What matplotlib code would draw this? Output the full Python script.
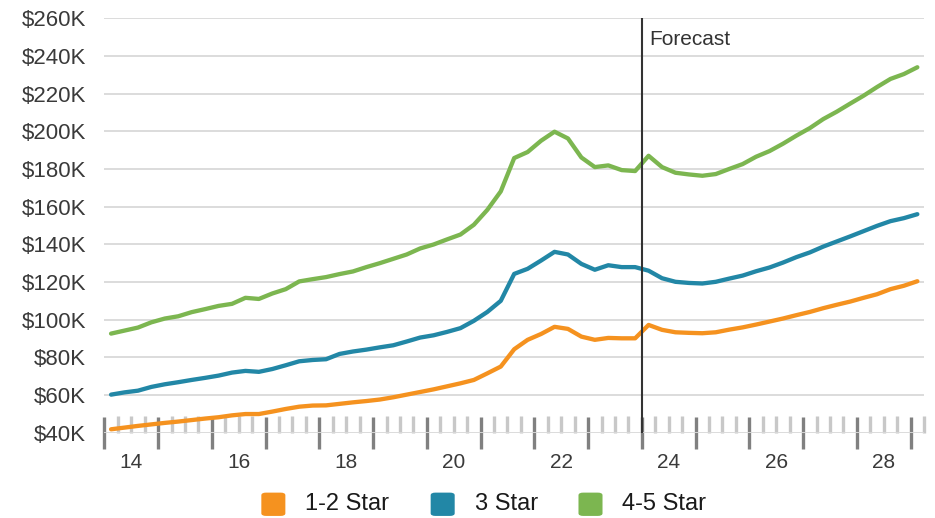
import matplotlib
matplotlib.use("Agg")
import matplotlib.pyplot as plt
from matplotlib.patches import FancyBboxPatch
from matplotlib.ticker import FixedLocator, FuncFormatter
import numpy as np
import pandas as pd

# quarterly median values, $K, 2014Q1 .. 2029Q1
quarters = pd.period_range("2014Q1", "2029Q1", freq="Q")

star_1_2 = [41.8, 42.7, 43.6, 44.4, 45.2, 45.9, 46.7, 47.5, 48.2, 49.2, 49.9, 49.9, 51.2, 52.6, 53.8, 54.4,
            54.5, 55.3, 56.1, 56.8, 57.6, 58.8, 60.2, 61.6, 63.0, 64.6, 66.2, 68.0, 71.5, 75.1, 84.3, 89.3,
            92.4, 96.2, 95.1, 91.0, 89.3, 90.3, 90.1, 90.1, 97.2, 94.6, 93.3, 93.0, 92.8, 93.3, 94.7, 95.9,
            97.4, 99.0, 100.6, 102.4, 104.1, 106.1, 107.9, 109.6, 111.6, 113.5, 116.2, 118.0, 120.4]
star_3 = [60.2, 61.4, 62.3, 64.3, 65.7, 66.8, 68.0, 69.1, 70.3, 71.9, 72.8, 72.3, 73.8, 75.8, 77.9, 78.6,
          79.0, 81.8, 83.1, 84.1, 85.3, 86.4, 88.4, 90.5, 91.7, 93.5, 95.5, 99.4, 104.1, 110.0, 124.3, 127.0,
          131.4, 136.0, 134.6, 129.6, 126.5, 128.9, 127.9, 127.9, 126.0, 122.0, 120.1, 119.5, 119.2, 120.1,
          121.8, 123.4, 125.7, 127.7, 130.3, 133.2, 135.7, 138.8, 141.5, 144.2, 147.0, 149.8, 152.3, 153.9, 156.0]
star_4_5 = [92.6, 94.2, 95.8, 98.6, 100.6, 101.8, 104.0, 105.6, 107.3, 108.4, 111.6, 111.0, 113.9, 116.2,
            120.3, 121.5, 122.6, 124.2, 125.6, 127.9, 130.0, 132.3, 134.6, 137.8, 139.9, 142.6, 145.2, 150.4,
            158.3, 168.1, 185.8, 189.0, 195.0, 199.8, 196.2, 186.1, 181.0, 181.9, 179.4, 178.9, 187.0, 181.0,
            178.0, 177.1, 176.4, 177.3, 180.0, 182.6, 186.5, 189.5, 193.4, 197.7, 201.7, 206.5, 210.4, 214.7,
            218.9, 223.5, 227.8, 230.4, 234.0]

series_names = ["1-2 Star", "3 Star", "4-5 Star"]
series_colors = ["#f5921f", "#2287a6", "#7cb650"]
forecast_start = 2024
year_labels = [2014, 2016, 2018, 2020, 2022, 2024, 2026, 2028]

plt.rcParams["font.family"] = ["Liberation Sans", "DejaVu Sans"]

# place each quarter at its midpoint, in decimal years
x = np.array([q.year + (q.quarter - 1) / 4 + 0.125 for q in quarters])

fig = plt.figure(figsize=(9.35, 5.18), dpi=100)
ax = fig.add_axes([0.1116, 0.1647, 0.8767, 0.80])

for vals, name, col in zip([star_1_2, star_3, star_4_5], series_names, series_colors):
    ax.plot(x, vals, color=col, lw=3.1, solid_joinstyle="round", solid_capstyle="round", label=name, zorder=3)

ax.set_xlim(2014, 2029.25)
ax.set_ylim(40, 260)

ax.set_yticks(np.arange(40, 261, 20))
ax.yaxis.set_major_formatter(FuncFormatter(lambda v, p: "$%dK" % v))
ax.grid(axis="y", color="#d9d9d9", lw=1.3, zorder=0)
ax.tick_params(axis="y", length=0, pad=13, labelsize=16, labelcolor="#3a3a3a")

# year boundaries dark, quarters light
ax.xaxis.set_major_locator(FixedLocator(np.arange(2014, 2030)))
ax.xaxis.set_minor_locator(FixedLocator(np.arange(2014, 2029.3, 0.25)))
ax.tick_params(axis="x", which="major", direction="inout", length=23, width=2.4, color="#808080",
               labelbottom=False)
ax.tick_params(axis="x", which="minor", direction="in", length=12, width=2.4, color="#c8c8c8")

for y in year_labels:
    ax.text(y + 0.5, -0.073, str(y)[2:], transform=ax.get_xaxis_transform(), ha="center", va="center",
            fontsize=15, color="#3a3a3a")

# the $40K gridline works as the baseline
for s in ["top", "right", "left", "bottom"]:
    ax.spines[s].set_visible(False)

ax.axvline(forecast_start, color="#333333", lw=1.5, zorder=4)
ax.text(forecast_start + 0.13, 0.948, "Forecast", transform=ax.get_xaxis_transform(), ha="left", va="center",
        fontsize=15, color="#333333")

# legend with rounded swatches
leg_x = [0.2795, 0.4606, 0.6187]
for lx, name, col in zip(leg_x, series_names, series_colors):
    fig.patches.append(FancyBboxPatch((lx, 0.004), 0.0257, 0.045, boxstyle="round,pad=0,rounding_size=0.005",
                                      transform=fig.transFigure, facecolor=col, edgecolor="none"))
    fig.text(lx + 0.047, 0.027, name, ha="left", va="center", fontsize=17, color="#1a1a1a")

plt.savefig("out.png", dpi=100)
plt.close()
